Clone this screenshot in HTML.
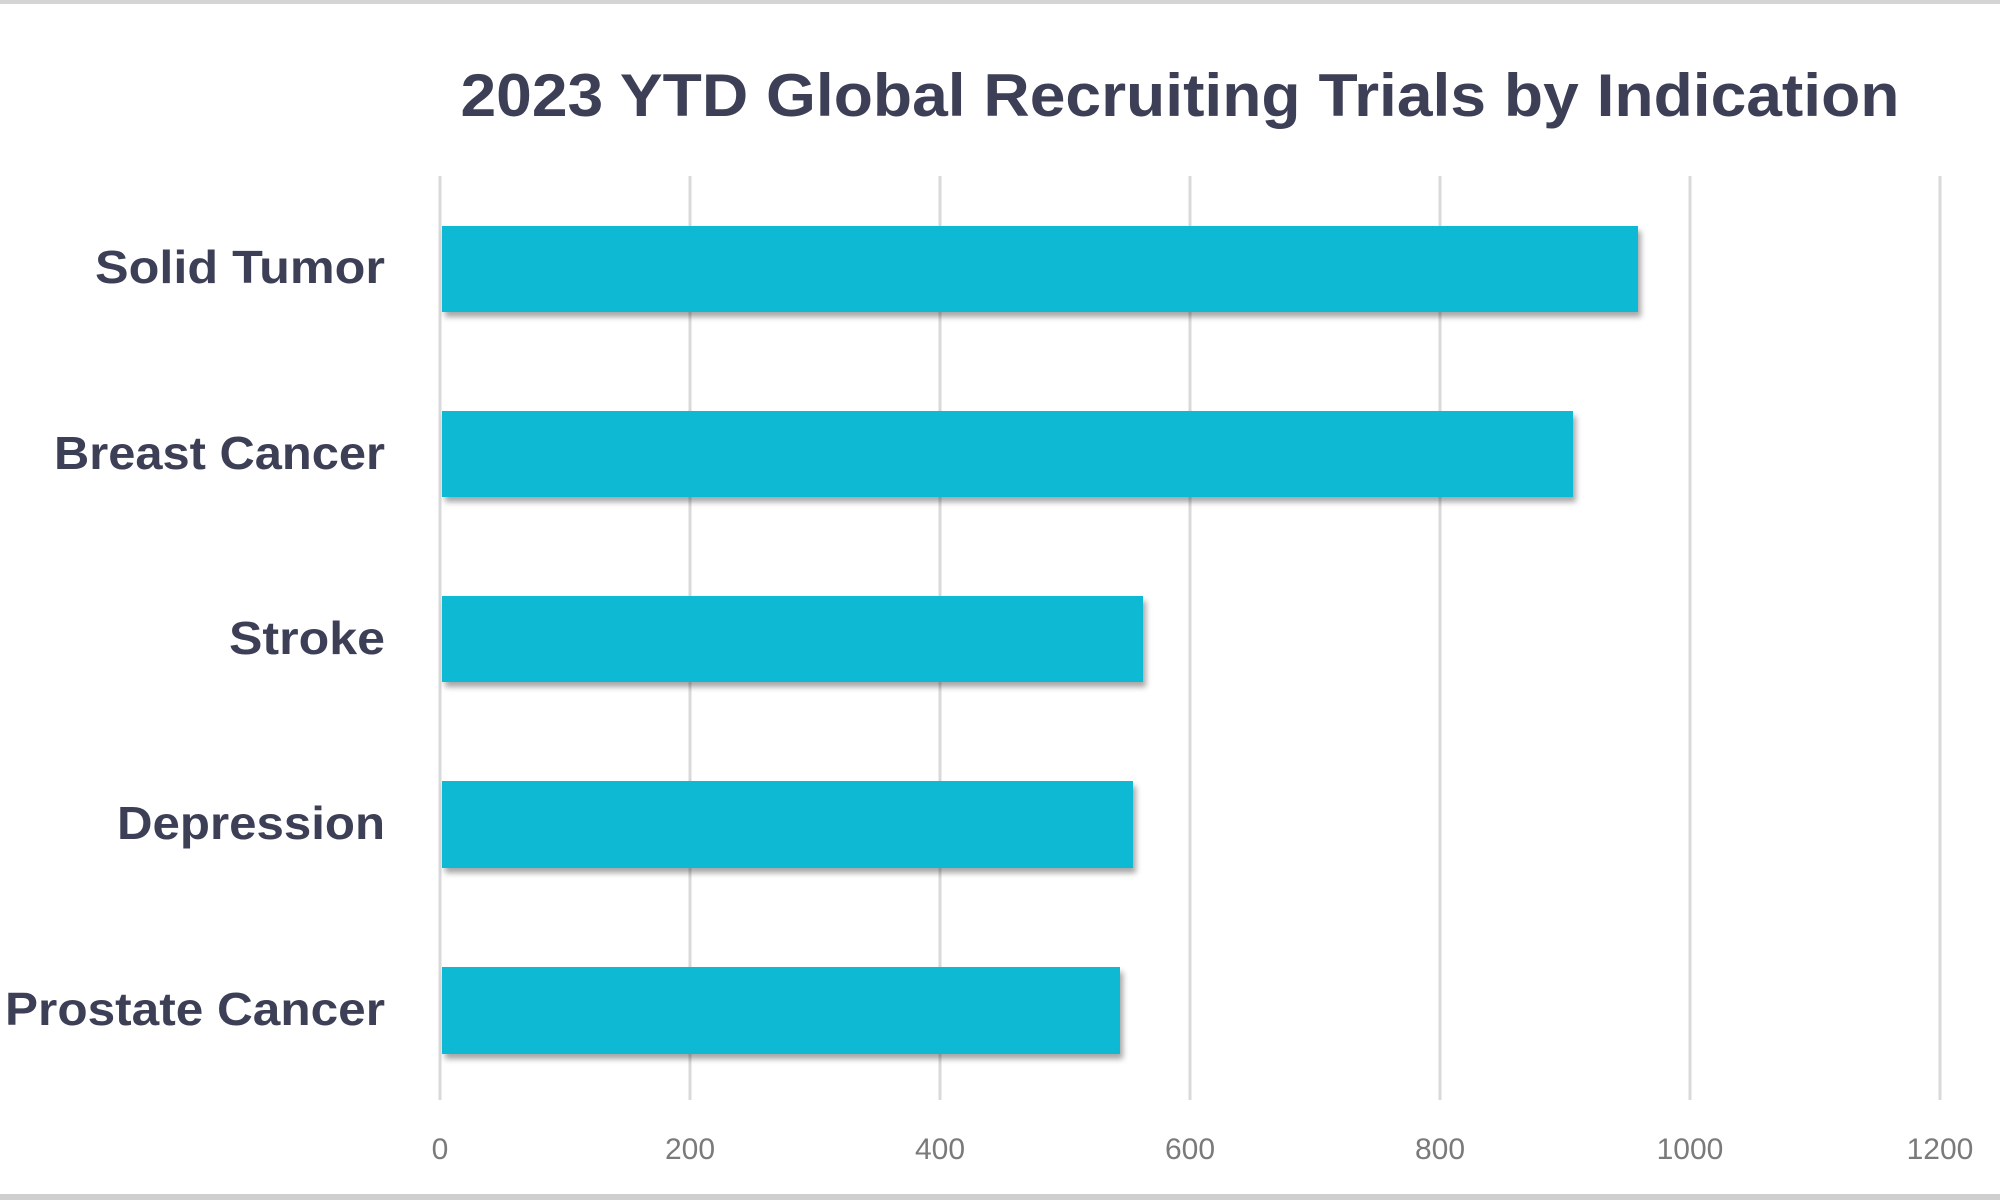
<!DOCTYPE html>
<html><head><meta charset="utf-8"><style>
html,body{margin:0;padding:0;background:#fff;}
svg{display:block;}
</style></head><body>
<svg width="2000" height="1200" viewBox="0 0 2000 1200" xmlns="http://www.w3.org/2000/svg">
<defs>
<filter id="sh" x="-5%" y="-20%" width="110%" height="160%">
<feDropShadow dx="3" dy="5" stdDeviation="3" flood-color="#000" flood-opacity="0.35"/>
</filter>
</defs>
<rect x="0" y="0" width="2000" height="1200" fill="#fff"/>
<rect x="0" y="0" width="2000" height="4" fill="#d4d4d4"/>
<rect x="0" y="1194" width="2000" height="6" fill="#cfcfcf"/>
<text x="1180" y="116" text-anchor="middle" font-family="Liberation Sans, sans-serif" font-weight="bold" font-size="60" fill="#3d3f56" textLength="1439" lengthAdjust="spacingAndGlyphs">2023 YTD Global Recruiting Trials by Indication</text>
<g stroke="#d9d9d9" stroke-width="3">
<line x1="440" y1="176" x2="440" y2="1100"/>
<line x1="690" y1="176" x2="690" y2="1100"/>
<line x1="940" y1="176" x2="940" y2="1100"/>
<line x1="1190" y1="176" x2="1190" y2="1100"/>
<line x1="1440" y1="176" x2="1440" y2="1100"/>
<line x1="1690" y1="176" x2="1690" y2="1100"/>
<line x1="1940" y1="176" x2="1940" y2="1100"/>
</g>
<g fill="#10b9d3" filter="url(#sh)">
<rect x="442" y="226" width="1196" height="86"/>
<rect x="442" y="411" width="1131" height="86"/>
<rect x="442" y="596" width="701" height="86"/>
<rect x="442" y="781" width="691" height="87"/>
<rect x="442" y="967" width="678" height="87"/>
</g>
<g font-family="Liberation Sans, sans-serif" font-weight="bold" font-size="46" fill="#3d3f56" text-anchor="end">
<text x="385" y="283" textLength="290" lengthAdjust="spacingAndGlyphs">Solid Tumor</text>
<text x="385" y="469" textLength="331" lengthAdjust="spacingAndGlyphs">Breast Cancer</text>
<text x="385" y="654" textLength="156" lengthAdjust="spacingAndGlyphs">Stroke</text>
<text x="385" y="839" textLength="268" lengthAdjust="spacingAndGlyphs">Depression</text>
<text x="385" y="1025" textLength="380" lengthAdjust="spacingAndGlyphs">Prostate Cancer</text>
</g>
<g font-family="Liberation Sans, sans-serif" font-size="30" fill="#7a7a7a" text-anchor="middle">
<text x="440" y="1159">0</text>
<text x="690" y="1159">200</text>
<text x="940" y="1159">400</text>
<text x="1190" y="1159">600</text>
<text x="1440" y="1159">800</text>
<text x="1690" y="1159">1000</text>
<text x="1940" y="1159">1200</text>
</g>
</svg>
</body></html>
